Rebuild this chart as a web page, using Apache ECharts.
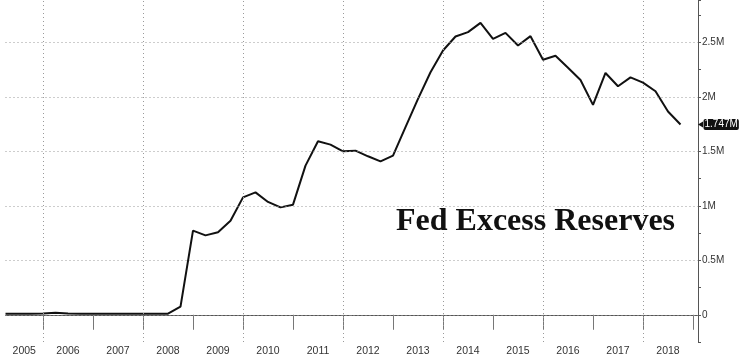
<!DOCTYPE html>
<html>
<head>
<meta charset="utf-8">
<script src="https://cdn.jsdelivr.net/npm/echarts@6/dist/echarts.min.js"></script>
<style>
html,body{margin:0;padding:0;background:#fff;}
#chart{width:742px;height:357px;}
</style>
</head>
<body>
<div id="chart"></div>
<script>
// Quarterly observations (Q1 = start of year)
const quarters = [
  '2005-Q2','2005-Q3','2005-Q4',
  '2006-Q1','2006-Q2','2006-Q3','2006-Q4',
  '2007-Q1','2007-Q2','2007-Q3','2007-Q4',
  '2008-Q1','2008-Q2','2008-Q3','2008-Q4',
  '2009-Q1','2009-Q2','2009-Q3','2009-Q4',
  '2010-Q1','2010-Q2','2010-Q3','2010-Q4',
  '2011-Q1','2011-Q2','2011-Q3','2011-Q4',
  '2012-Q1','2012-Q2','2012-Q3','2012-Q4',
  '2013-Q1','2013-Q2','2013-Q3','2013-Q4',
  '2014-Q1','2014-Q2','2014-Q3','2014-Q4',
  '2015-Q1','2015-Q2','2015-Q3','2015-Q4',
  '2016-Q1','2016-Q2','2016-Q3','2016-Q4',
  '2017-Q1','2017-Q2','2017-Q3','2017-Q4',
  '2018-Q1','2018-Q2','2018-Q3','2018-Q4'
];
// Fed excess reserves (M = million millions, i.e. trillion USD)
const reserves = [
  0.010, 0.010, 0.010,
  0.012, 0.018, 0.012, 0.010,
  0.010, 0.010, 0.010, 0.010,
  0.010, 0.010, 0.010, 0.074,
  0.772, 0.729, 0.757, 0.864,
  1.078, 1.124, 1.036, 0.986,
  1.011, 1.369, 1.593, 1.562,
  1.501, 1.507, 1.455, 1.409,
  1.461, 1.722, 1.982, 2.227,
  2.426, 2.555, 2.595, 2.680,
  2.533, 2.588, 2.472, 2.558,
  2.341, 2.378, 2.268, 2.155,
  1.927, 2.220, 2.098, 2.180,
  2.131, 2.052, 1.866, 1.747
];
const yearLabels = ['2005','2006','2007','2008','2009','2010','2011','2012','2013','2014','2015','2016','2017','2018'];
const yearSeparators = [2006,2007,2008,2009,2010,2011,2012,2013,2014,2015,2016,2017,2018,2019];
const verticalGridYears = [2006,2008,2010,2012,2014,2016,2018];
const yGridValues = [0, 0.5, 1, 1.5, 2, 2.5];
const titleText = 'Fed Excess Reserves';

const xMin = 2005.25, xMax = 2019.1;
const toYear = q => { const p = q.split('-Q'); return Number(p[0]) + (Number(p[1]) - 1) / 4; };
const seriesData = quarters.map((q, i) => [toYear(q), reserves[i]]);
const labelCenters = yearLabels.map(y => (Math.max(Number(y), xMin) + Number(y) + 1) / 2);
const lastPoint = seriesData[seriesData.length - 1];

const fmtY = v => {
  if (Math.abs(v * 2 - Math.round(v * 2)) > 1e-6 || v < -1e-9 || v > 2.6) return '';
  const r = Math.round(v * 2) / 2;
  return r === 0 ? '0' : r + 'M';
};

const dotted = { color: '#9a9a9a', width: 1, type: [1, 3] };

const chart = echarts.init(document.getElementById('chart'), null, { renderer: 'canvas' });
chart.setOption({
  animation: false,
  backgroundColor: '#ffffff',
  title: {
    text: titleText,
    left: 396,
    top: 206,
    padding: 0,
    textStyle: { fontFamily: 'Liberation Serif', fontWeight: 'bold', fontSize: 32, color: '#111' }
  },
  grid: { left: 5.5, right: 44, top: 0, bottom: 15, containLabel: false },
  xAxis: {
    type: 'value',
    min: xMin,
    max: xMax,
    axisLine: { show: true, lineStyle: { color: '#555', width: 1 } },
    axisTick: { show: true, customValues: yearSeparators, length: 15, lineStyle: { color: '#777' } },
    axisLabel: {
      customValues: labelCenters,
      formatter: v => String(Math.floor(v)),
      color: '#333', fontFamily: 'Liberation Sans', fontSize: 10.5, margin: 4
    },
    splitLine: { show: false }
  },
  yAxis: {
    type: 'value',
    position: 'right',
    min: -0.25,
    max: 2.89,
    interval: 0.25,
    axisLine: { show: true, lineStyle: { color: '#555', width: 1 } },
    axisTick: { show: true, length: 3, lineStyle: { color: '#555' } },
    axisLabel: { formatter: fmtY, color: '#333', fontFamily: 'Liberation Sans', fontSize: 10, margin: 4 },
    splitLine: { show: false }
  },
  series: [{
    type: 'line',
    data: seriesData,
    showSymbol: false,
    symbol: 'none',
    lineStyle: { color: '#111', width: 2 },
    endLabel: {
      show: true,
      formatter: p => p.value[1].toFixed(3) + 'M',
      distance: 23,
      color: '#fff',
      backgroundColor: '#111',
      padding: [1, 1, 0, 1],
      borderRadius: 2,
      fontFamily: 'Liberation Sans',
      fontSize: 10
    },
    markLine: {
      silent: true,
      symbol: ['none', 'none'],
      label: { show: false },
      lineStyle: dotted,
      data: yGridValues.map(v => ({ yAxis: v })).concat(verticalGridYears.map(v => ({ xAxis: v })))
    },
    markPoint: {
      silent: true,
      symbol: 'triangle',
      symbolSize: [6, 5],
      symbolRotate: 90,
      symbolOffset: [20, 0],
      itemStyle: { color: '#111' },
      label: { show: false },
      data: [{ coord: lastPoint }]
    }
  }]
});
</script>
</body>
</html>
